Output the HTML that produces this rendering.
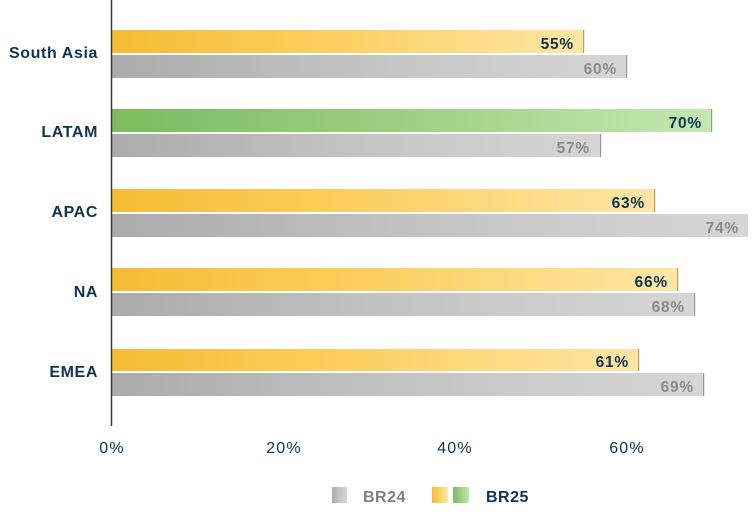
<!DOCTYPE html>
<html><head><meta charset="utf-8"><style>
html,body{margin:0;padding:0;background:#fff;}
svg{display:block;}
text{font-family:"Liberation Sans",Arial,sans-serif;}
</style></head><body>
<svg width="753" height="524" viewBox="0 0 753 524" xmlns="http://www.w3.org/2000/svg">
<defs>
<linearGradient id="gy" x1="0" x2="1" y1="0" y2="0">
<stop offset="0" stop-color="#f5bc34"/><stop offset="0.45" stop-color="#fbcf60"/><stop offset="1" stop-color="#fde6a6"/>
</linearGradient>
<linearGradient id="gg" x1="0" x2="1" y1="0" y2="0">
<stop offset="0" stop-color="#7cbb60"/><stop offset="0.5" stop-color="#9dd084"/><stop offset="1" stop-color="#c6e7b2"/>
</linearGradient>
<linearGradient id="gr" x1="0" x2="1" y1="0" y2="0">
<stop offset="0" stop-color="#ababab"/><stop offset="0.5" stop-color="#c4c4c4"/><stop offset="1" stop-color="#d6d6d6"/>
</linearGradient>
</defs>

<!-- South Asia -->
<rect x="112" y="30" width="472" height="23" fill="url(#gy)"/>
<rect x="583" y="30" width="1.2" height="23" fill="#b8a060"/>
<rect x="112" y="55" width="515" height="23" fill="url(#gr)"/>
<rect x="626" y="55" width="1.2" height="23" fill="#9a9a9a"/>
<!-- LATAM -->
<rect x="112" y="109" width="600" height="23" fill="url(#gg)"/>
<rect x="711" y="109" width="1.2" height="23" fill="#8aa080"/>
<rect x="112" y="134" width="489" height="23" fill="url(#gr)"/>
<rect x="600" y="134" width="1.2" height="23" fill="#9a9a9a"/>
<!-- APAC -->
<rect x="112" y="189" width="543" height="23" fill="url(#gy)"/>
<rect x="654" y="189" width="1.2" height="23" fill="#b8a060"/>
<rect x="112" y="214" width="636" height="23" fill="url(#gr)"/>
<!-- NA -->
<rect x="112" y="268" width="566" height="23" fill="url(#gy)"/>
<rect x="677" y="268" width="1.2" height="23" fill="#b8a060"/>
<rect x="112" y="293" width="583" height="23" fill="url(#gr)"/>
<rect x="694" y="293" width="1.2" height="23" fill="#9a9a9a"/>
<!-- EMEA -->
<rect x="112" y="349" width="527" height="22" fill="url(#gy)"/>
<rect x="638" y="349" width="1.2" height="22" fill="#b8a060"/>
<rect x="112" y="373" width="592" height="23" fill="url(#gr)"/>
<rect x="703" y="373" width="1.2" height="23" fill="#9a9a9a"/>

<!-- axis -->
<line x1="111.5" y1="0" x2="111.5" y2="426" stroke="#3a3a3a" stroke-width="1.5"/>

<!-- category labels -->
<g font-size="16" font-weight="bold" fill="#0e3450" text-anchor="end" letter-spacing="0.6">
<text x="98" y="58">South Asia</text>
<text x="98" y="137">LATAM</text>
<text x="98" y="217">APAC</text>
<text x="98" y="297">NA</text>
<text x="98" y="377">EMEA</text>
</g>

<!-- value labels -->
<g font-size="15.5" font-weight="bold" text-anchor="end" letter-spacing="0.8">
<text x="574" y="49" fill="#0e3450">55%</text>
<text x="617" y="74" fill="#8a8a8a">60%</text>
<text x="702" y="128" fill="#0e3450">70%</text>
<text x="590" y="153" fill="#8a8a8a">57%</text>
<text x="645" y="208" fill="#0e3450">63%</text>
<text x="739" y="233" fill="#8a8a8a">74%</text>
<text x="668" y="287" fill="#0e3450">66%</text>
<text x="685" y="312" fill="#8a8a8a">68%</text>
<text x="629" y="367" fill="#0e3450">61%</text>
<text x="694" y="392" fill="#8a8a8a">69%</text>
</g>

<!-- ticks -->
<g font-size="16" fill="#0e3450" text-anchor="middle" letter-spacing="1.2">
<text x="112" y="453">0%</text>
<text x="284" y="453">20%</text>
<text x="455" y="453">40%</text>
<text x="627" y="453">60%</text>
</g>

<!-- legend -->
<rect x="332" y="487" width="15" height="16" fill="url(#gr)"/>
<text x="363" y="502" font-size="16" font-weight="bold" fill="#808080" letter-spacing="0.5">BR24</text>
<rect x="432" y="487" width="16" height="16" fill="url(#gy)"/>
<rect x="453" y="487" width="16" height="16" fill="url(#gg)"/>
<text x="486" y="502" font-size="16" font-weight="bold" fill="#0e3450" letter-spacing="0.5">BR25</text>
</svg>
</body></html>
